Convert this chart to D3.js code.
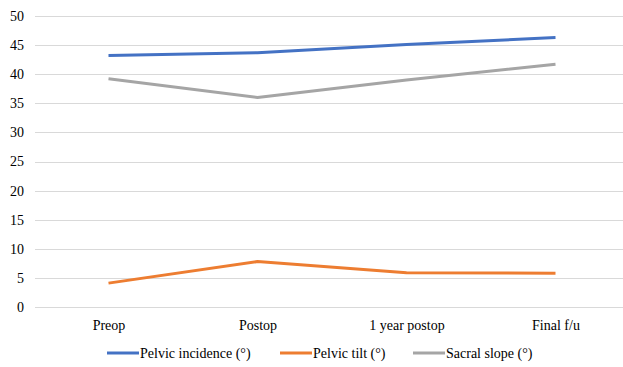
<!DOCTYPE html>
<html>
<head>
<meta charset="utf-8">
<script src="https://cdn.jsdelivr.net/npm/d3@7"></script>
<style>
  html, body { margin: 0; padding: 0; background: #fff; }
  svg { display: block; }
</style>
</head>
<body>
<svg id="chart" width="623" height="367" font-family="Liberation Serif"></svg>
<script>
// Spinopelvic parameters over follow-up
const categories = ["Preop", "Postop", "1 year postop", "Final f/u"];
const pelvicIncidence = [43.2, 43.7, 45.1, 46.3];
const pelvicTilt = [4.1, 7.8, 5.9, 5.8];
const sacralSlope = [39.2, 36.0, 39.0, 41.7];
const yTicks = [0, 5, 10, 15, 20, 25, 30, 35, 40, 45, 50];

const series = [
  { name: "Pelvic incidence (°)", values: pelvicIncidence, color: "#4472C4" },
  { name: "Pelvic tilt (°)", values: pelvicTilt, color: "#ED7D31" },
  { name: "Sacral slope (°)", values: sacralSlope, color: "#A5A5A5" }
];

const FONT = "Liberation Serif";
const svg = d3.select("#chart");
const plotLeft = 34, plotRight = 630, plotTop = 16, plotBottom = 307;

const x = d3.scalePoint().domain(categories).range([plotLeft, plotRight]).padding(0.5);
const y = d3.scaleLinear().domain([0, 50]).range([plotBottom, plotTop]);

// Horizontal gridlines
svg.append("g")
  .selectAll("line")
  .data(yTicks)
  .join("line")
  .attr("x1", plotLeft + 1)
  .attr("x2", 623)
  .attr("y1", d => Math.round(y(d)) + 0.5)
  .attr("y2", d => Math.round(y(d)) + 0.5)
  .attr("stroke", "#D9D9D9")
  .attr("stroke-width", 1);

// Y axis labels
const yAxis = d3.axisLeft(y).tickValues(yTicks).tickSize(0).tickPadding(0);
svg.append("g")
  .attr("transform", `translate(${plotLeft - 10},0)`)
  .call(yAxis)
  .attr("font-family", FONT)
  .attr("font-size", 14)
  .call(g => g.select(".domain").remove())
  .call(g => g.selectAll("text").attr("fill", "#000"));

// X axis labels
const xAxis = d3.axisBottom(x).tickSize(0).tickPadding(0);
svg.append("g")
  .attr("transform", `translate(0,${plotBottom + 13})`)
  .call(xAxis)
  .attr("font-family", FONT)
  .attr("font-size", 14)
  .call(g => g.select(".domain").remove())
  .call(g => g.selectAll("text").attr("fill", "#000"));

// Series lines
const line = d3.line()
  .x((d, i) => x(categories[i]))
  .y(d => y(d));

svg.append("g")
  .selectAll("path")
  .data(series)
  .join("path")
  .attr("d", d => line(d.values))
  .attr("fill", "none")
  .attr("stroke", d => d.color)
  .attr("stroke-width", 3)
  .attr("stroke-linejoin", "round");

// Legend
const legendX = [107, 280, 413];
const legendY = 353;
const legend = svg.append("g")
  .attr("font-family", FONT)
  .attr("font-size", 14)
  .selectAll("g")
  .data(series)
  .join("g")
  .attr("transform", (d, i) => `translate(${legendX[i]},${legendY})`);

legend.append("line")
  .attr("x1", 0).attr("x2", 32)
  .attr("y1", 0).attr("y2", 0)
  .attr("stroke", d => d.color)
  .attr("stroke-width", 3);

legend.append("text")
  .attr("x", 33)
  .attr("y", 0)
  .attr("dy", "0.35em")
  .attr("fill", "#000")
  .text(d => d.name);
</script>
</body>
</html>
